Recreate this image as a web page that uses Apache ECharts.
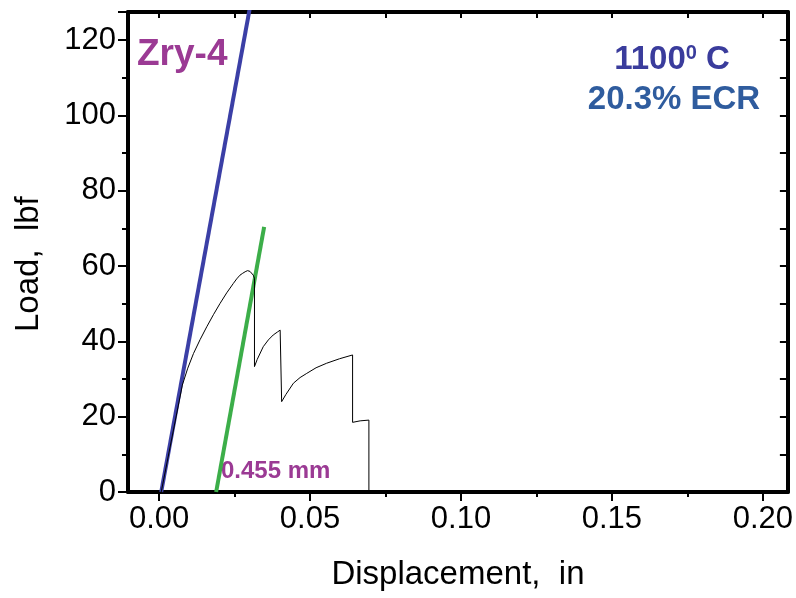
<!DOCTYPE html>
<html>
<head>
<meta charset="utf-8">
<script src="https://cdn.jsdelivr.net/npm/echarts@6/dist/echarts.min.js"></script>
<style>
html,body{margin:0;padding:0;background:#fff;}
#chart{width:796px;height:598px;}
</style>
</head>
<body>
<div id="chart"></div>
<script>
// Measured load-displacement curve (in, lbf)
var curveX = [0.0007, 0.0077, 0.0095, 0.0114, 0.0136, 0.0158, 0.0180, 0.0202, 0.0224, 0.0246, 0.0257, 0.0268, 0.0277, 0.0285, 0.0293, 0.0301, 0.0307, 0.0312, 0.0316,
              0.0316, 0.0325, 0.0345, 0.0362, 0.0378, 0.0392, 0.0401, 0.0406,
              0.0406, 0.0420, 0.0445, 0.0467, 0.0489, 0.0520, 0.0555, 0.0598, 0.0641,
              0.0641, 0.0666, 0.0695, 0.0695];
var curveY = [0, 28.4, 32.9, 36.8, 40.5, 43.9, 47.1, 50.1, 52.9, 55.4, 56.6, 57.6, 58.1, 58.5, 58.8, 58.6, 58.2, 57.6, 56.8,
              33.3, 35.2, 38.6, 40.4, 41.7, 42.5, 43.0, 42.8,
              24.0, 25.9, 28.9, 30.4, 31.5, 33.0, 34.2, 35.4, 36.4,
              18.5, 18.9, 19.1, 0];
// Elastic slope line and offset line (0.455 mm)
var slopeX = [0.0007, 0.0300];
var slopeY = [0, 128.3];
var offsetX = [0.0189, 0.0348];
var offsetY = [0, 70.4];
var xMajorTicks = [0, 0.05, 0.10, 0.15, 0.20];
var xMinorTicks = [0.025, 0.075, 0.125, 0.175];
var xAllTicks = [0, 0.025, 0.05, 0.075, 0.10, 0.125, 0.15, 0.175, 0.20];
var yAllTicks = [0, 10, 20, 30, 40, 50, 60, 70, 80, 90, 100, 110, 120];

function zip(a, b) { return a.map(function (v, i) { return [v, b[i]]; }); }

var chart = echarts.init(document.getElementById('chart'));
var FONT = 'Liberation Sans';
var XMIN = -0.0103, XMAX = 0.2083, YMAX = 127.5;
var axisLine = { show: true, onZero: false, lineStyle: { color: '#000', width: 4 } };

chart.setOption({
  animation: false,
  backgroundColor: '#fff',
  grid: { left: 128, right: 8, top: 12, bottom: 106, containLabel: false },
  xAxis: [
    {
      type: 'value', min: XMIN, max: XMAX, position: 'bottom',
      axisLine: axisLine,
      axisTick: { show: true, customValues: xMajorTicks, length: 9, lineStyle: { color: '#000', width: 2 } },
      axisLabel: { customValues: xMajorTicks, color: '#000', fontFamily: FONT, fontSize: 31, margin: 12,
        formatter: function (v) { return v.toFixed(2); } },
      splitLine: { show: false },
      name: 'Displacement,  in', nameLocation: 'middle', nameGap: 66,
      nameTextStyle: { color: '#000', fontFamily: FONT, fontSize: 33 }
    },
    {
      type: 'value', min: XMIN, max: XMAX, position: 'bottom',
      axisLine: { show: false, onZero: false },
      axisTick: { show: true, customValues: xMinorTicks, length: 5, lineStyle: { color: '#000', width: 2 } },
      axisLabel: { show: false }, splitLine: { show: false }
    },
    {
      type: 'value', min: XMIN, max: XMAX, position: 'top',
      axisLine: axisLine,
      axisTick: { show: true, inside: true, customValues: xAllTicks, length: 6, lineStyle: { color: '#000', width: 2 } },
      axisLabel: { show: false }, splitLine: { show: false }
    }
  ],
  yAxis: [
    {
      type: 'value', min: 0, max: YMAX, interval: 20, position: 'left',
      axisLine: axisLine,
      axisTick: { show: true, length: 10, lineStyle: { color: '#000', width: 2 } },
      minorTick: { show: true, splitNumber: 2, length: 6, lineStyle: { color: '#000', width: 2 } },
      axisLabel: { color: '#000', fontFamily: FONT, fontSize: 31, margin: 12, showMaxLabel: false },
      splitLine: { show: false }
    },
    {
      type: 'value', min: 0, max: YMAX, position: 'right',
      axisLine: axisLine,
      axisTick: { show: true, inside: true, customValues: yAllTicks, length: 8, lineStyle: { color: '#000', width: 2 } },
      axisLabel: { show: false }, splitLine: { show: false }
    }
  ],
  series: [
    {
      type: 'line', xAxisIndex: 0, yAxisIndex: 0, data: zip(slopeX, slopeY),
      showSymbol: false, clip: true, lineStyle: { color: '#3b3fa6', width: 4 }
    },
    {
      type: 'line', xAxisIndex: 0, yAxisIndex: 0, data: zip(offsetX, offsetY),
      showSymbol: false, clip: true, lineStyle: { color: '#3cae49', width: 4 }
    },
    {
      type: 'line', xAxisIndex: 0, yAxisIndex: 0, data: zip(curveX, curveY),
      showSymbol: false, clip: true, lineStyle: { color: '#000', width: 1 }
    }
  ],
  graphic: [
    { type: 'text', x: 12, y: 332, rotation: Math.PI / 2,
      style: { text: 'Load,  lbf', fontFamily: FONT, fontSize: 33, fill: '#000', align: 'left', verticalAlign: 'top' }, silent: true },
    { type: 'text', x: 137, y: 55,
      style: { text: 'Zry-4', fontFamily: FONT, fontWeight: 'bold', fontSize: 37, fill: '#9b3a94', verticalAlign: 'middle', align: 'left' } },
    { type: 'text', x: 672, y: 60,
      style: { text: '1100{s|0} C', fontFamily: FONT, fontWeight: 'bold', fontSize: 33, fill: '#3a3c9c', verticalAlign: 'middle', align: 'center',
        rich: { s: { fontFamily: FONT, fontWeight: 'bold', fontSize: 20, fill: '#3a3c9c', verticalAlign: 'top', padding: [0, 0, 14, 0] } } } },
    { type: 'text', x: 674, y: 100,
      style: { text: '20.3% ECR', fontFamily: FONT, fontWeight: 'bold', fontSize: 33, fill: '#2f5c9e', verticalAlign: 'middle', align: 'center' } },
    { type: 'text', x: 221, y: 471,
      style: { text: '0.455 mm', fontFamily: FONT, fontWeight: 'bold', fontSize: 24, fill: '#9b3a94', verticalAlign: 'middle', align: 'left' } }
  ]
});
</script>
</body>
</html>
